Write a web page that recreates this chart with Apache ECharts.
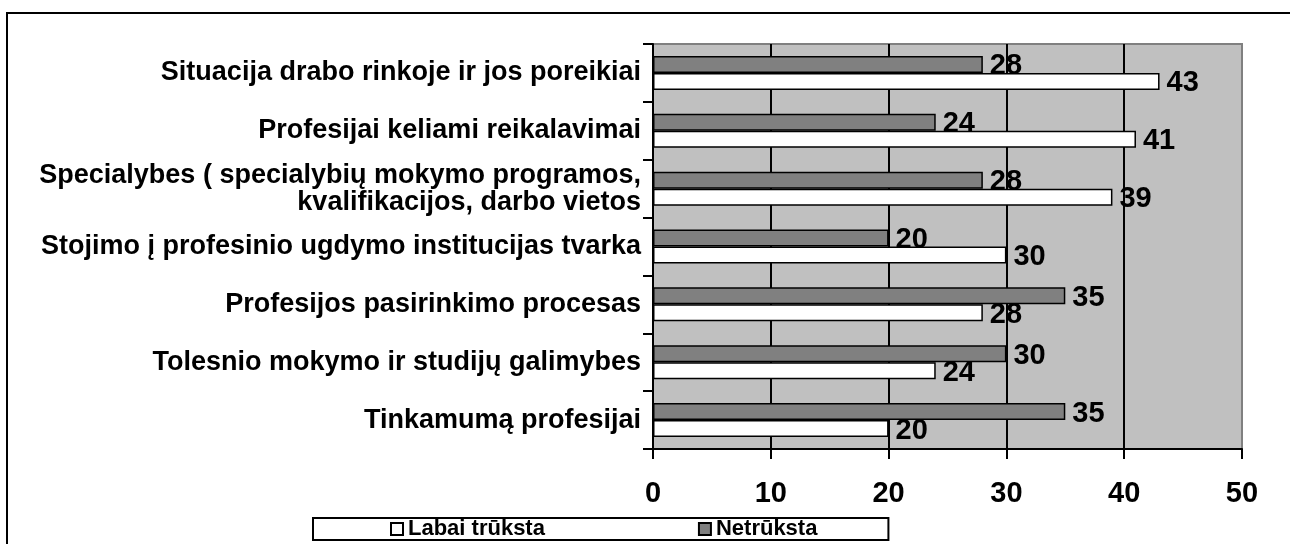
<!DOCTYPE html>
<html>
<head>
<meta charset="utf-8">
<script src="https://cdn.jsdelivr.net/npm/echarts@6/dist/echarts.min.js"></script>
<style>
  html, body { margin: 0; padding: 0; background: #fff; }
  #chart { width: 1290px; height: 544px; }
</style>
</head>
<body>
<div id="chart"></div>
<script>
const categories = [
  'Situacija drabo rinkoje ir jos poreikiai',
  'Profesijai keliami reikalavimai',
  'Specialybes ( specialybių mokymo programos,\nkvalifikacijos, darbo vietos',
  'Stojimo į profesinio ugdymo institucijas tvarka',
  'Profesijos pasirinkimo procesas',
  'Tolesnio mokymo ir studijų galimybes',
  'Tinkamumą profesijai'
]
const labaiTruksta = [43, 41, 39, 30, 28, 24, 20]
const netruksta = [28, 24, 28, 20, 35, 30, 35]
const xTicks = [0, 10, 20, 30, 40, 50]

const chart = echarts.init(document.getElementById('chart'))

const font = 'Liberation Sans, Arial, sans-serif'

const labelStyle = {
  show: true,
  position: 'right',
  distance: 7,
  offset: [0, 2],
  color: '#000',
  fontFamily: font,
  fontWeight: 'bold',
  fontSize: 29
}

chart.setOption({
  animation: false,
  textStyle: { fontFamily: font },
  graphic: [
    {
      type: 'polyline',
      shape: { points: [[7, 544], [7, 13], [1290, 13]] },
      style: { stroke: '#000', lineWidth: 2, fill: null }
    }
  ],
  grid: {
    left: 653,
    right: 48,
    top: 44,
    bottom: 95,
    show: true,
    backgroundColor: '#c0c0c0',
    borderColor: '#808080',
    borderWidth: 2,
    outerBoundsMode: 'none'
  },
  legend: {
    left: 313,
    top: 518,
    padding: [0, 71, 0, 77],
    itemGap: 153,
    itemWidth: 12,
    itemHeight: 12,
    icon: 'rect',
    backgroundColor: '#fff',
    borderColor: '#000',
    borderWidth: 2,
    borderRadius: 0,
    data: ['Labai trūksta', 'Netrūksta'],
    textStyle: {
      color: '#000',
      fontWeight: 'bold',
      fontSize: 22,
      fontFamily: font
    }
  },
  xAxis: {
    type: 'value',
    min: xTicks[0],
    max: xTicks[xTicks.length - 1],
    interval: 10,
    axisLine: { show: true, lineStyle: { color: '#000', width: 2 } },
    axisTick: { show: true, length: 10, lineStyle: { color: '#000', width: 2 } },
    axisLabel: {
      margin: 30,
      color: '#000',
      fontWeight: 'bold',
      fontSize: 29
    },
    splitLine: {
      show: true,
      showMaxLine: false,
      lineStyle: { color: '#000', width: 2 }
    }
  },
  yAxis: {
    type: 'category',
    inverse: true,
    data: categories,
    axisLine: { show: true, lineStyle: { color: '#000', width: 2 } },
    axisTick: { show: true, length: 10, lineStyle: { color: '#000', width: 2 } },
    axisLabel: {
      margin: 12,
      color: '#000',
      fontWeight: 'bold',
      fontSize: 27,
      lineHeight: 27,
      align: 'right'
    },
    splitLine: { show: false }
  },
  series: [
    {
      name: 'Netrūksta',
      type: 'bar',
      data: netruksta,
      barWidth: 17,
      barGap: '0%',
      itemStyle: { color: '#808080', borderColor: '#000', borderWidth: 1.5 },
      label: labelStyle
    },
    {
      name: 'Labai trūksta',
      type: 'bar',
      data: labaiTruksta,
      barWidth: 17,
      barGap: '0%',
      itemStyle: { color: '#ffffff', borderColor: '#000', borderWidth: 1.5 },
      label: labelStyle
    }
  ]
})
</script>
</body>
</html>
